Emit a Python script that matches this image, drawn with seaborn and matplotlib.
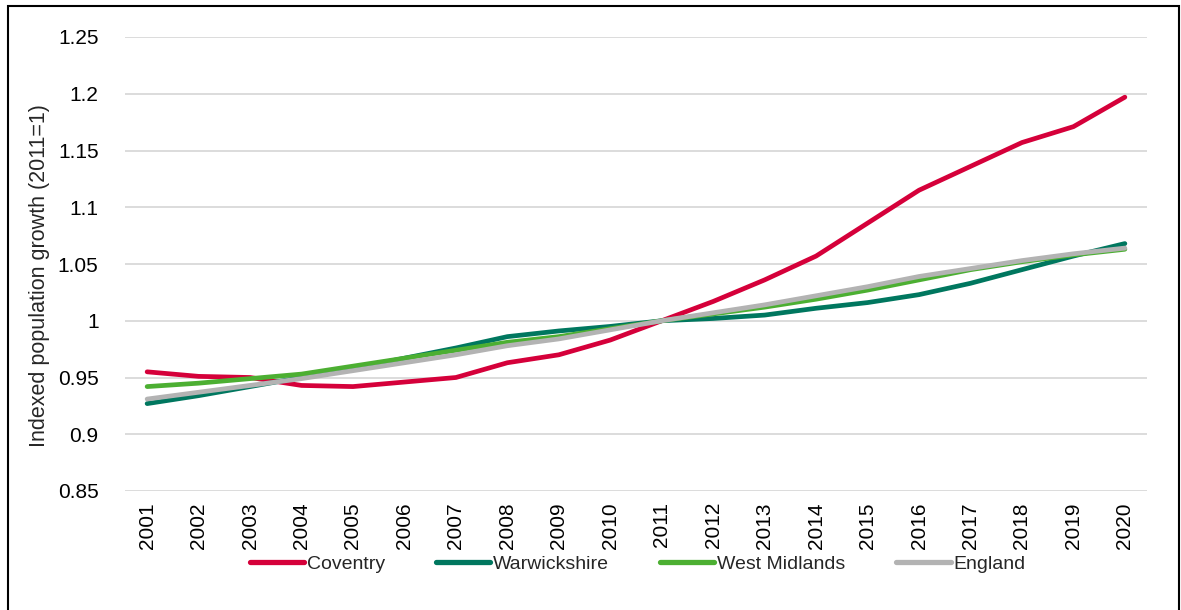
import matplotlib
matplotlib.use("Agg")
import matplotlib.pyplot as plt
import seaborn as sns
import pandas as pd
from matplotlib.patches import Rectangle

years = list(range(2001, 2021))
coventry = [0.955, 0.951, 0.950, 0.943, 0.942, 0.946, 0.950, 0.963, 0.970, 0.983,
            1.000, 1.017, 1.036, 1.057, 1.086, 1.115, 1.136, 1.157, 1.171, 1.197]
warwickshire = [0.927, 0.934, 0.942, 0.950, 0.958, 0.967, 0.976, 0.986, 0.991, 0.995,
                1.000, 1.002, 1.005, 1.011, 1.016, 1.023, 1.033, 1.045, 1.057, 1.068]
west_midlands = [0.942, 0.945, 0.949, 0.953, 0.960, 0.967, 0.974, 0.981, 0.986, 0.993,
                 1.000, 1.006, 1.012, 1.019, 1.027, 1.036, 1.045, 1.052, 1.058, 1.063]
england = [0.931, 0.937, 0.943, 0.949, 0.956, 0.963, 0.970, 0.978, 0.984, 0.992,
           1.000, 1.007, 1.014, 1.022, 1.030, 1.039, 1.046, 1.053, 1.059, 1.064]
series_names = ["Coventry", "Warwickshire", "West Midlands", "England"]
colors = ["#d5003a", "#00775f", "#4caf32", "#b3b3b3"]
y_ticks = [0.85, 0.9, 0.95, 1, 1.05, 1.1, 1.15, 1.2, 1.25]
y_tick_labels = ["0.85", "0.9", "0.95", "1", "1.05", "1.1", "1.15", "1.2", "1.25"]

sns.set_style("white")
plt.rcParams['font.family'] = ['Liberation Sans Narrow', 'Liberation Sans', 'DejaVu Sans']

frames = []
for name, vals in zip(series_names, [coventry, warwickshire, west_midlands, england]):
    frames.append(pd.DataFrame({"Year": years, "Value": vals, "Series": name}))
df = pd.concat(frames, ignore_index=True)

fig = plt.figure(figsize=(11.81, 6.10), dpi=100)
ax = fig.add_axes([125/1181, 1-491/610, (1147-125)/1181, (491-37)/610])

sns.lineplot(data=df, x="Year", y="Value", hue="Series", hue_order=series_names,
             palette=colors, linewidth=3.4, ax=ax, legend=True)
for line in ax.get_lines():
    line.set_solid_capstyle("round")
    line.set_solid_joinstyle("round")

ax.set_ylim(0.85, 1.25)
ax.set_xlim(2001 - 0.43, 2020 + 0.43)
ax.set_yticks(y_ticks)
ax.set_yticklabels(y_tick_labels)
ax.set_xticks(years)
ax.set_xticklabels([str(y) for y in years], rotation=90)
ax.tick_params(axis='both', labelsize=15, length=0, colors='black')
ax.tick_params(axis='y', pad=19)
ax.tick_params(axis='x', pad=8)
ax.yaxis.grid(True, color="#d9d9d9", linewidth=1.3)
ax.xaxis.grid(False)
for s in ax.spines.values():
    s.set_visible(False)
ax.set_xlabel("")
ax.set_ylabel("Indexed population growth (2011=1)", fontsize=15.5)
ax.yaxis.set_label_coords(-0.073, 0.475)

handles, labels = ax.get_legend_handles_labels()
ax.legend(handles, labels, loc="center", bbox_to_anchor=(0.54, 0.075),
          bbox_transform=fig.transFigure, ncol=4, frameon=False, fontsize=14,
          handlelength=2.8, handletextpad=0.15, columnspacing=2.6)
for lh in ax.get_legend().get_lines():
    lh.set_linewidth(3.8)

fig.patches.append(Rectangle((8/1181, -0.05), (1179-8)/1181, 1.05 - 6/610,
                             transform=fig.transFigure, fill=False,
                             edgecolor="black", linewidth=1.5))

fig.savefig("out.png", dpi=100)
